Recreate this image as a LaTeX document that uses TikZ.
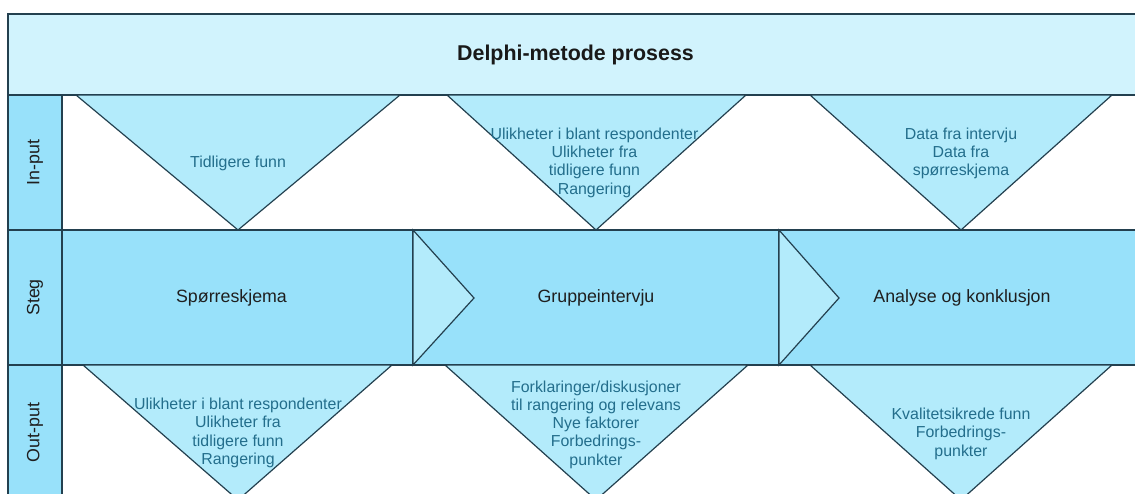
\documentclass[tikz,border=0pt]{standalone}
\usepackage{fontspec}
\setmainfont{Liberation Sans}
\definecolor{bord}{HTML}{23404F}
\definecolor{titlefill}{HTML}{D1F3FD}
\definecolor{midfill}{HTML}{98E1FA}
\definecolor{trifill}{HTML}{B3EBFB}
\definecolor{tritext}{HTML}{236E8C}
\begin{document}
\begin{tikzpicture}[x=1pt,y=-1pt,
  box/.style={draw=bord, line width=1.2pt, line join=miter},
  tri/.style={box, fill=trifill},
  tritxt/.style={text=tritext, font=\fontsize{15.9}{18.3}\selectfont, align=center, inner sep=0pt},
  steptxt/.style={text=black!88, font=\fontsize{17.8}{20}\selectfont, inner sep=0pt},
  lanetxt/.style={rotate=90, text=black!88, font=\fontsize{17.8}{20}\selectfont, inner sep=0pt}
]
\useasboundingbox (0,0) rectangle (1135,493);
\clip (0,0) rectangle (1135,493);
% title band
\draw[box, fill=titlefill] (8,14) rectangle (1145,95);
\node[font=\bfseries\fontsize{21.4}{24}\selectfont, text=black!90, inner sep=0pt] (title) at (575.5,55) {Delphi-metode prosess};
% rows
\draw[box, fill=white] (62,95) rectangle (1145,230);
\draw[box, fill=white] (62,365) rectangle (1145,500);
% lane labels
\draw[box, fill=midfill] (8,95) rectangle (62,230);
\draw[box, fill=midfill] (8,230) rectangle (62,365);
\draw[box, fill=midfill] (8,365) rectangle (62,500);
\node[lanetxt] (linput) at (35,162.5) {In-put};
\node[lanetxt] (lsteg) at (35,297.5) {Steg};
\node[lanetxt] (loutput) at (35,432.5) {Out-put};
% steps
\draw[box, fill=midfill] (62,230) rectangle (413,365);
\draw[box, fill=midfill] (413,230) rectangle (779,365);
\draw[box, fill=midfill] (779,230) rectangle (1145,365);
\draw[tri] (413,230) -- (474,298) -- (413,365) -- cycle;
\draw[tri] (779,230) -- (839,298) -- (779,365) -- cycle;
\node[steptxt] (s1) at (231.5,298) {Spørreskjema};
\node[steptxt] (s2) at (596,298) {Gruppeintervju};
\node[steptxt] (s3) at (962,298) {Analyse og konklusjon};
% input triangles
\draw[tri] (76,95) -- (400,95) -- (238,230) -- cycle;
\draw[tri] (447,95) -- (746,95) -- (596,230) -- cycle;
\draw[tri] (810,95) -- (1112,95) -- (961,230) -- cycle;
\node[tritxt] (i1) at (238,163) {Tidligere funn};
\node[tritxt] (i2) at (594.5,162.5) {Ulikheter i blant respondenter\\Ulikheter fra\\tidligere funn\\Rangering};
\node[tritxt] (i3) at (961,153.5) {Data fra intervju\\Data fra\\spørreskjema};
% output triangles
\draw[tri] (83,365) -- (392,365) -- (238,500) -- cycle;
\draw[tri] (445,365) -- (748,365) -- (596,500) -- cycle;
\draw[tri] (810,365) -- (1112,365) -- (961,500) -- cycle;
\node[tritxt] (o1) at (238,433) {Ulikheter i blant respondenter\\Ulikheter fra\\tidligere funn\\Rangering};
\node[tritxt] (o2) at (596,424.5) {Forklaringer/diskusjoner\\til rangering og relevans\\Nye faktorer\\Forbedrings-\\punkter};
\node[tritxt] (o3) at (961,433.7) {Kvalitetsikrede funn\\Forbedrings-\\punkter};
\end{tikzpicture}
\end{document}
